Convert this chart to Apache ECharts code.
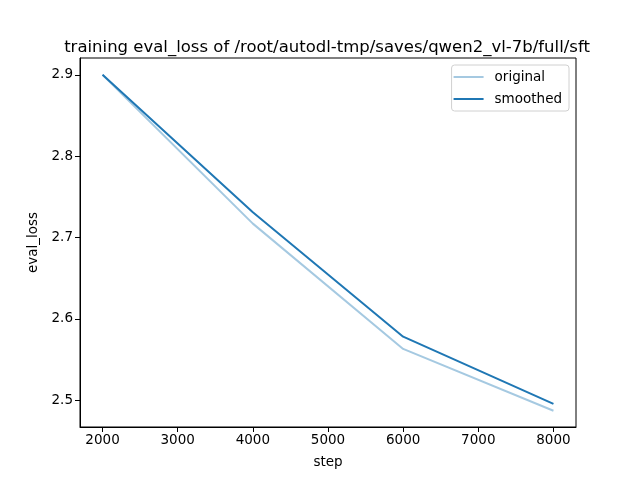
<!DOCTYPE html>
<html>
<head>
<meta charset="utf-8">
<script src="https://cdn.jsdelivr.net/npm/echarts@6/dist/echarts.min.js"></script>
<style>
html, body { margin: 0; padding: 0; background: #fff; }
#main { width: 640px; height: 480px; }
</style>
</head>
<body>
<div id="main"></div>
<script>
var steps = [2000, 4000, 6000, 8000];
var original = [2.900, 2.717, 2.563, 2.487];
var smoothed = [2.900, 2.731, 2.578, 2.4955];
var xTicks = [2000, 3000, 4000, 5000, 6000, 7000, 8000];
var yTicks = [2.5, 2.6, 2.7, 2.8, 2.9];

function pairs(xs, ys) {
    var out = [];
    for (var i = 0; i < xs.length; i++) {
        out.push([xs[i], ys[i]]);
    }
    return out;
}

var font = 'DejaVu Sans';
var chart = echarts.init(document.getElementById('main'));
chart.setOption({
    animation : false,
    textStyle : {fontFamily : font},
    title : {
        text : 'training eval_loss of /root/autodl-tmp/saves/qwen2_vl-7b/full/sft',
        left : 322,
        textAlign : 'center',
        top : 34,
        textStyle : {fontFamily : font, fontSize : 16.5, fontWeight : 'normal', color : '#000'}
    },
    legend : {
        orient : 'vertical',
        right : 71,
        top : 65,
        padding : [5, 7, 5, 2],
        itemGap : 8,
        itemWidth : 30,
        itemHeight : 2,
        borderColor : '#d0d0d0',
        borderWidth : 1,
        borderRadius : 3,
        icon : 'rect',
        textStyle : {fontFamily : font, fontSize : 13.5, color : '#000', padding : [0, 0, 0, 6]},
        data : ['original', 'smoothed']
    },
    grid : {
        left : 80, right : 64, top : 58, bottom : 53,
        show : true, borderColor : '#000', borderWidth : 1
    },
    xAxis : {
        type : 'value',
        min : 1700,
        max : 8300,
        name : 'step',
        nameLocation : 'middle',
        nameGap : 28,
        nameTextStyle : {fontFamily : font, fontSize : 13.5, color : '#000'},
        axisLine : {show : true, lineStyle : {color : '#000', width : 1}},
        axisTick : {show : true, length : 5, customValues : xTicks, lineStyle : {color : '#000'}},
        axisLabel : {
            customValues : xTicks, color : '#000', fontSize : 13.5, margin : 6,
            formatter : function(v) { return String(v); }
        },
        splitLine : {show : false}
    },
    yAxis : {
        type : 'value',
        min : 2.467,
        max : 2.9206,
        name : 'eval_loss',
        nameLocation : 'middle',
        nameGap : 39,
        nameRotate : 90,
        nameTextStyle : {fontFamily : font, fontSize : 13.5, color : '#000'},
        axisLine : {show : true, lineStyle : {color : '#000', width : 1}},
        axisTick : {show : true, length : 5, customValues : yTicks, lineStyle : {color : '#000'}},
        axisLabel : {
            customValues : yTicks, color : '#000', fontSize : 13.5, margin : 7,
            formatter : function(v) { return v.toFixed(1); }
        },
        splitLine : {show : false}
    },
    series : [{
        name : 'original',
        type : 'line',
        data : pairs(steps, original),
        showSymbol : false,
        symbol : 'none',
        color : 'rgba(31,119,180,0.4)',
        lineStyle : {width : 2, color : 'rgba(31,119,180,0.4)'}
    }, {
        name : 'smoothed',
        type : 'line',
        data : pairs(steps, smoothed),
        showSymbol : false,
        symbol : 'none',
        color : '#1f77b4',
        lineStyle : {width : 2, color : '#1f77b4'}
    }]
});
</script>
</body>
</html>
